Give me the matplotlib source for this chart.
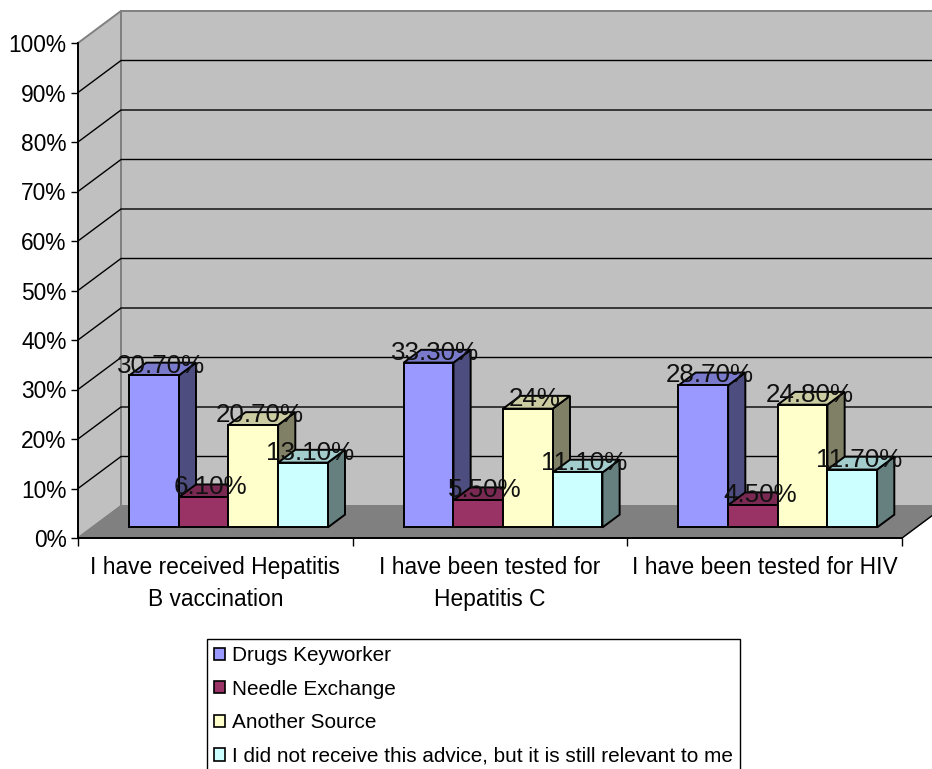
import matplotlib
matplotlib.use("Agg")
import matplotlib.pyplot as plt
from matplotlib.patches import Polygon, Patch
from matplotlib.ticker import PercentFormatter

plt.rcParams["font.family"] = ["Liberation Sans", "DejaVu Sans"]

categories = ["I have received Hepatitis\nB vaccination",
              "I have been tested for\nHepatitis C",
              "I have been tested for HIV"]
series_names = ["Drugs Keyworker", "Needle Exchange", "Another Source",
                "I did not receive this advice, but it is still relevant to me"]
keyworker = [30.7, 33.3, 28.7]
needle_exchange = [6.1, 5.5, 4.5]
another_source = [20.7, 24.0, 24.8]
no_advice = [13.1, 11.1, 11.7]
value_labels = [["30.70%", "33.30%", "28.70%"],
                ["6.10%", "5.50%", "4.50%"],
                ["20.70%", "24%", "24.80%"],
                ["13.10%", "11.10%", "11.70%"]]
series_values = [keyworker, needle_exchange, another_source, no_advice]

face = ["#9999FF", "#993366", "#FFFFCC", "#CCFFFF"]
top = ["#7A7ACC", "#7A2952", "#CCCCA3", "#A3CCCC"]
side = ["#4D4D80", "#4D1A33", "#808066", "#668080"]

W, H = 932, 769
fig = plt.figure(figsize=(W / 100, H / 100), dpi=100, facecolor="white")
ax = fig.add_axes([78 / W, 1 - 538 / H, 824 / W, 495 / H])
ax.set_xlim(0, 3)
ax.set_ylim(0, 100)
ax.patch.set_visible(False)

# Oblique projection: a unit of depth shifts a point right and upward
DX = 43 / (824 / 3)
DY = 32 / 4.95


def proj(x, y, d=0.0):
    return (x + d * DX, y + d * DY)


def poly(points, fc, ec, lw=1.0, z=1):
    ax.add_patch(Polygon(points, closed=True, facecolor=fc, edgecolor=ec,
                         linewidth=lw, zorder=z, clip_on=False,
                         joinstyle="miter"))


# Side wall, back wall and floor
poly([proj(0, 0), proj(0, 100), proj(0, 100, 1), proj(0, 0, 1)], "#C0C0C0", "#808080", 1.4)
poly([proj(0, 0, 1), proj(0, 100, 1), proj(3, 100, 1), proj(3, 0, 1)], "#C0C0C0", "#808080", 1.4)
poly([proj(0, 0), proj(0, 0, 1), proj(3, 0, 1), proj(3, 0)], "#808080", "#808080", 1.0, z=1.5)
ax.plot(*zip(proj(3, 0), proj(3, 0, 1)), color="black", lw=1.0, zorder=1.6, clip_on=False)

# Gridlines across both walls
for pct in range(10, 100, 10):
    ax.plot(*zip(proj(0, pct), proj(0, pct, 1), proj(3, pct, 1)),
            color="black", lw=1.0, zorder=1.2, clip_on=False)

# Bars, left to right so each one overlaps its neighbour's side face
GAP = 0.1345
BAR_W = 0.1808
D0, D1 = 0.33, 0.73
z = 2.0
for c in range(len(categories)):
    for s, values in enumerate(series_values):
        v = values[c]
        x0 = c + GAP + s * BAR_W
        x1 = x0 + BAR_W
        poly([proj(x1, 0, D0), proj(x1, v, D0), proj(x1, v, D1), proj(x1, 0, D1)],
             side[s], "black", 1.4, z)
        poly([proj(x0, v, D0), proj(x0, v, D1), proj(x1, v, D1), proj(x1, v, D0)],
             top[s], "black", 1.4, z)
        poly([proj(x0, 0, D0), proj(x0, v, D0), proj(x1, v, D0), proj(x1, 0, D0)],
             face[s], "black", 1.4, z)
        z += 0.01

# Value labels sit above everything else, centred over each bar's top face
for s, values in enumerate(series_values):
    for c, v in enumerate(values):
        x0 = c + GAP + s * BAR_W
        lx = proj(x0 + BAR_W / 2, v, (D0 + D1) / 2 - 0.04)[0]
        ly = proj(x0, v, D1 - 0.09)[1]
        ax.text(lx, ly, value_labels[s][c], ha="center", va="center",
                fontsize=18.7, color="#111111", zorder=5, clip_on=False)

# Axes
for name in ("top", "right"):
    ax.spines[name].set_visible(False)
for name in ("left", "bottom"):
    ax.spines[name].set_linewidth(1.4)
    ax.spines[name].set_zorder(1.8)
ax.set_yticks(range(0, 101, 10))
ax.yaxis.set_major_formatter(PercentFormatter(100, decimals=0))
ax.tick_params(axis="y", length=5, width=1.0, labelsize=16.4, pad=3.2)
ax.set_xticks([0, 1, 2, 3])
ax.set_xticklabels([])
ax.tick_params(axis="x", which="major", length=6, width=1.0)
ax.set_xticks([0.5, 1.5, 2.5], minor=True)
ax.set_xticklabels(categories, minor=True, fontsize=16.4, linespacing=1.5)
ax.tick_params(axis="x", which="minor", length=0, pad=13)

# Legend runs off the lower edge of the figure
handles = [Patch(facecolor=f, edgecolor="black", linewidth=1.2) for f in face]
leg = fig.legend(handles, series_names, loc="upper left",
                 bbox_to_anchor=(207 / W, 1 - 639 / H), bbox_transform=fig.transFigure,
                 fontsize=14.95, frameon=True, fancybox=False, edgecolor="black",
                 framealpha=1, borderaxespad=0, borderpad=0.34, labelspacing=0.7,
                 handlelength=0.54, handleheight=0.54, handletextpad=0.33)
leg.get_frame().set_linewidth(1.0)

fig.savefig("out.png", dpi=100, facecolor="white")
